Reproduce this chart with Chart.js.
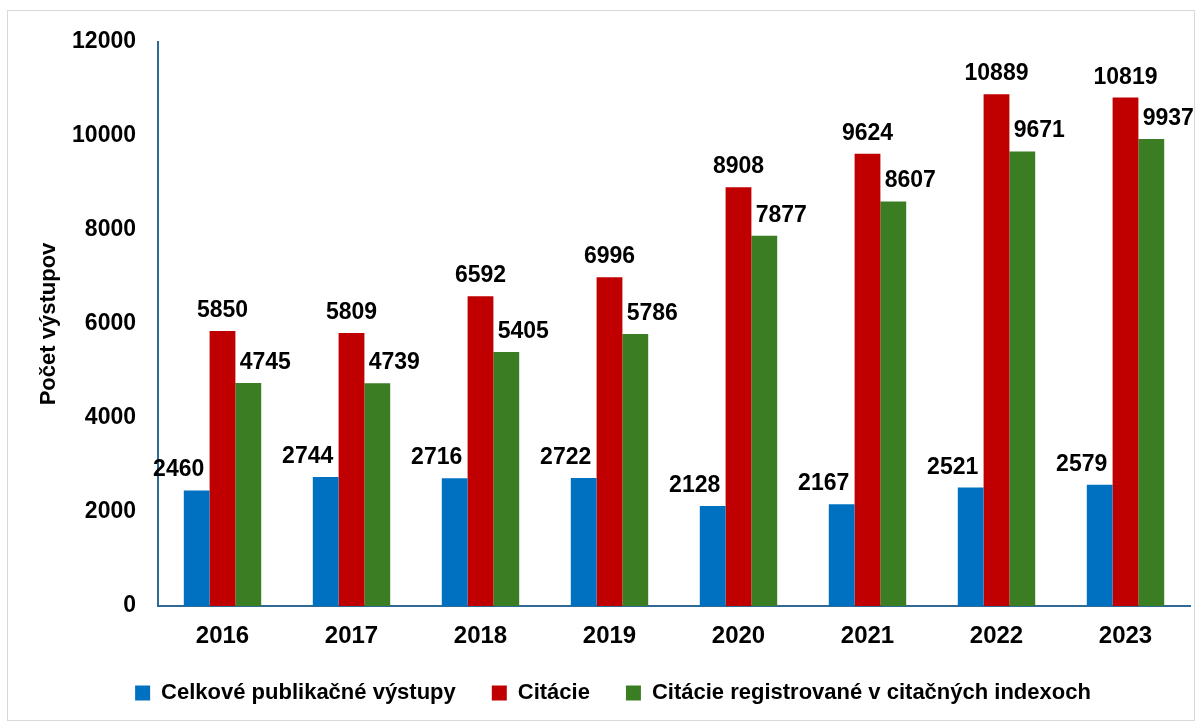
<!DOCTYPE html>
<html>
<head>
<meta charset="utf-8">
<script src="https://cdn.jsdelivr.net/npm/chart.js@4.4.1/dist/chart.umd.min.js"></script>
<style>
  html, body { margin: 0; padding: 0; background: #ffffff; }
  #wrap { width: 1198px; height: 724px; position: relative; }
</style>
</head>
<body>
<div id="wrap"><canvas id="c" width="1198" height="724"></canvas></div>
<script>
const categories = ['2016', '2017', '2018', '2019', '2020', '2021', '2022', '2023'];
const seriesNames = ['Celkové publikačné výstupy', 'Citácie', 'Citácie registrované v citačných indexoch'];
const publikacie = [2460, 2744, 2716, 2722, 2128, 2167, 2521, 2579];
const citacie = [5850, 5809, 6592, 6996, 8908, 9624, 10889, 10819];
const citacieIndexy = [4745, 4739, 5405, 5786, 7877, 8607, 9671, 9937];
const yTicks = [0, 2000, 4000, 6000, 8000, 10000, 12000];

const FONT = '"Liberation Sans", Arial, sans-serif';
const colors = ['#0070C0', '#C00000', '#3B7D23'];
const labelOffsets = [-18, 0, 17];

const frame = {
  id: 'frame',
  beforeDraw(chart) {
    const ctx = chart.ctx;
    ctx.save();
    ctx.fillStyle = '#ffffff';
    ctx.fillRect(0, 0, chart.width, chart.height);
    ctx.strokeStyle = '#D9D9D9';
    ctx.lineWidth = 1;
    ctx.strokeRect(7.5, 10.5, 1187, 710);
    ctx.restore();
  }
};

const valueLabels = {
  id: 'valueLabels',
  afterDatasetsDraw(chart) {
    const ctx = chart.ctx;
    ctx.save();
    ctx.font = 'bold 23px ' + FONT;
    ctx.fillStyle = '#000000';
    ctx.textAlign = 'center';
    ctx.textBaseline = 'alphabetic';
    chart.data.datasets.forEach((ds, i) => {
      const meta = chart.getDatasetMeta(i);
      meta.data.forEach((bar, j) => {
        ctx.fillText(String(ds.data[j]), bar.x + labelOffsets[i], bar.y - 14);
      });
    });
    ctx.restore();
  }
};

new Chart(document.getElementById('c'), {
  type: 'bar',
  data: {
    labels: categories,
    datasets: [
      { label: seriesNames[0], data: publikacie, backgroundColor: colors[0] },
      { label: seriesNames[1], data: citacie, backgroundColor: colors[1] },
      { label: seriesNames[2], data: citacieIndexy, backgroundColor: colors[2] }
    ]
  },
  options: {
    responsive: false,
    animation: false,
    devicePixelRatio: 1,
    datasets: { bar: { categoryPercentage: 0.6, barPercentage: 1.0, borderWidth: 0 } },
    layout: { padding: { top: 42, right: 8, bottom: 10, left: 36 } },
    plugins: {
      tooltip: { enabled: false },
      legend: {
        position: 'bottom',
        labels: {
          font: { family: FONT, size: 22, weight: 'bold' },
          color: '#000000',
          boxWidth: 15,
          boxHeight: 15,
          padding: 36
        }
      }
    },
    scales: {
      x: {
        grid: { display: false, drawTicks: false },
        border: { display: true, color: '#2F6A96', width: 2 },
        ticks: { font: { family: FONT, size: 24, weight: 'bold' }, color: '#000000', padding: 16 },
        afterFit(scale) { scale.height = 40; }
      },
      y: {
        min: 0,
        max: 12000,
        afterBuildTicks(scale) { scale.ticks = yTicks.map(v => ({ value: v })); },
        grid: { display: false, drawTicks: false },
        border: { display: true, color: '#2F6A96', width: 2 },
        ticks: {
          font: { family: FONT, size: 23, weight: 'bold' },
          color: '#000000',
          padding: 22,
          callback: (v) => String(v)
        },
        title: {
          display: true,
          text: 'Počet výstupov',
          font: { family: FONT, size: 22, weight: 'bold' },
          color: '#000000',
          padding: { top: 0, bottom: 10 }
        },
        afterFit(scale) { scale.width = 122; }
      }
    }
  },
  plugins: [frame, valueLabels]
});
</script>
</body>
</html>
